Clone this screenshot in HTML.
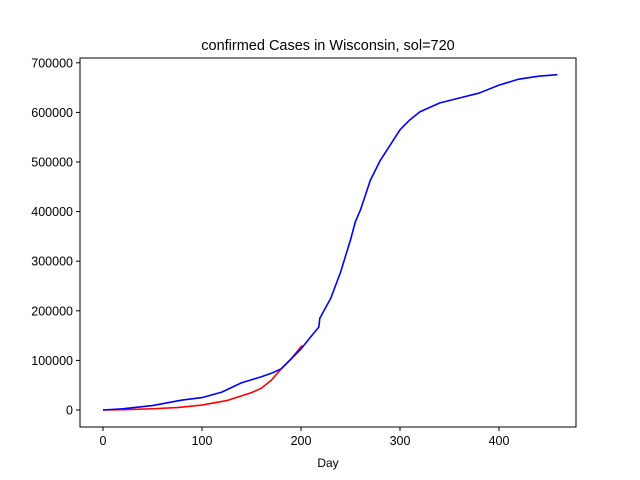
<!DOCTYPE html>
<html><head><meta charset="utf-8"><style>
body{margin:0;background:#fff;}
svg{display:block;font-family:"Liberation Sans","DejaVu Sans",sans-serif;}
</style></head><body>
<svg id="chart" width="640" height="480" xmlns="http://www.w3.org/2000/svg">
<rect width="640" height="480" fill="#fff"/>
<text x="328" y="50" text-anchor="middle" font-size="14.5">confirmed Cases in Wisconsin, sol=720</text>
<text x="328" y="467" text-anchor="middle" font-size="12">Day</text>
<g id="plot"></g>
<rect x="80" y="58" width="496" height="369" fill="none" stroke="#000" stroke-width="1"/>
</svg>
<script>
const blueDays=[0,20,50,80,100,120,140,160,170,180,190,200,210,218,219,230,240,250,255,260,270,280,290,300,310,320,340,360,380,400,420,440,459];
const blueCases=[0,2500,9000,20000,25000,36000,55000,67000,74000,83000,103000,123000,148000,167000,185000,225000,278000,343000,380000,403000,463000,503000,534000,565000,585000,601000,619000,629000,639000,655000,667000,673000,676000];
const redDays=[0,25,50,75,100,125,150,160,170,180,190,201];
const redCases=[0,800,2500,5000,10000,19000,35000,44000,60000,83000,103000,130000];
const xTicks=[0,100,200,300,400];
const yTicks=[0,100000,200000,300000,400000,500000,600000,700000];
const X=d=>103+d*0.99;
const Y=v=>410-v*0.000496;
const NS="http://www.w3.org/2000/svg";
const g=document.getElementById('plot');
function mk(t,a){const e=document.createElementNS(NS,t);for(const k in a)e.setAttribute(k,a[k]);g.appendChild(e);return e;}
xTicks.forEach(t=>{
  const l=mk('line',{x1:X(t),x2:X(t),y1:427,y2:431,stroke:'#000'});
  
  
  const s=mk('text',{x:X(t),y:445,'text-anchor':'middle','font-size':12.5});
  s.textContent=t;
  
  
});
yTicks.forEach(t=>{
  const l=mk('line',{x1:76,x2:80,y1:Y(t),y2:Y(t),stroke:'#000'});
  
  
  const s=mk('text',{x:73,y:Y(t)+4.5,'text-anchor':'end','font-size':12.5});
  s.textContent=t;
  
  
});
function line(xs,ys,color,name){
  const p=mk('polyline',{points:xs.map((d,i)=>X(d)+','+Y(ys[i])).join(' '),fill:'none',stroke:color,'stroke-width':1.6,'stroke-linejoin':'round'});
  
  
}
line(redDays,redCases,'#ff0000','fit-line');
line(blueDays,blueCases,'#0000ff','confirmed-cases-line');
</script>
</body></html>
